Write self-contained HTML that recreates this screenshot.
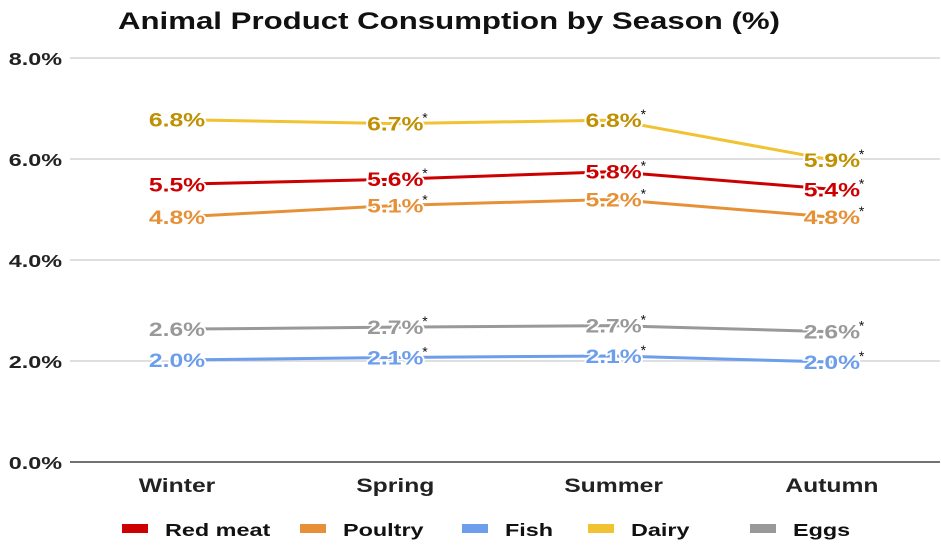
<!DOCTYPE html>
<html><head><meta charset="utf-8"><style>
body{margin:0;background:#fff;font-family:"Liberation Sans",Arial,sans-serif}
svg text{font-family:"Liberation Sans",Arial,sans-serif}
</style></head><body>
<svg id="c" width="941" height="545">
<text transform="translate(449,29) scale(1.3,1)" text-anchor="middle" font-size="24" font-weight="bold" fill="#111">Animal Product Consumption by Season (%)</text>
<g id="grid"></g><g id="lines"></g><g id="labels"></g><g id="legend"></g>
</svg>
<script>
const categories=["Winter","Spring","Summer","Autumn"];
const seriesNames=["Red meat","Poultry","Fish","Dairy","Eggs"];
const colors=["#cc0000","#e69138","#6d9eeb","#f1c232","#999999"];
const labelColors=["#cc0000","#e69138","#6d9eeb","#bf9000","#999999"];
const redMeat=[5.5,5.6,5.75,5.4];
const poultry=[4.85,5.08,5.2,4.85];
const fish=[2.02,2.07,2.1,1.98];
const dairy=[6.78,6.7,6.77,5.98];
const eggs=[2.63,2.67,2.7,2.58];
const redMeatLabels=["5.5%","5.6%","5.8%","5.4%"];
const poultryLabels=["4.8%","5.1%","5.2%","4.8%"];
const fishLabels=["2.0%","2.1%","2.1%","2.0%"];
const dairyLabels=["6.8%","6.7%","6.8%","5.9%"];
const eggsLabels=["2.6%","2.7%","2.7%","2.6%"];
const yTicks=[0,2,4,6,8];
const yTickLabels=["0.0%","2.0%","4.0%","6.0%","8.0%"];
const legendX=[122,300,462,588,750];
const series=[redMeat,poultry,fish,dairy,eggs];
const labels=[redMeatLabels,poultryLabels,fishLabels,dairyLabels,eggsLabels];
const NS="http://www.w3.org/2000/svg";
const y=v=>462-v*50.5;
const x=i=>177+i*218.3;
const SX=1.3;
function mk(p,t,a){const e=document.createElementNS(NS,t);for(const k in a)e.setAttribute(k,a[k]);document.getElementById(p).appendChild(e);return e;}
function tx(p,px,py,a){a.transform='translate('+px+','+py+') scale('+SX+',1)';return mk(p,'text',a);}
yTicks.forEach((v,i)=>{
 const l=mk('grid','line',{x1:70,x2:940,y1:y(v),y2:y(v),stroke:v===0?'#444':'#ccc','stroke-width':v===0?1.5:1.2});
 
 
 const t=tx('grid',62,y(v)+7,{'text-anchor':'end','font-size':18,'font-weight':'bold',fill:'#222'});
 t.textContent=yTickLabels[i];
 
 
});
categories.forEach((c,i)=>{
 const t=tx('grid',x(i),492,{'text-anchor':'middle','font-size':19,'font-weight':'bold',fill:'#222'});
 t.textContent=c;
 
 
});
series.forEach((s,k)=>{
 const p=mk('lines','polyline',{points:s.map((v,i)=>x(i)+','+y(v)).join(' '),fill:'none',stroke:colors[k],'stroke-width':3});
 
 
 s.forEach((v,i)=>{
  const t=tx('labels',x(i),y(v)+7,{'text-anchor':'middle','font-size':19,'font-weight':'bold',fill:labelColors[k],stroke:'#fff','stroke-width':3,'paint-order':'stroke'});
  t.textContent=labels[k][i];
  
  
  if(i>0){const a=mk('labels','text',{x:x(i)+27,y:y(v)-1,'font-size':14,fill:'#111'});a.textContent='*';
   
   }
 });
 const r=mk('legend','rect',{x:legendX[k],y:524,width:26,height:9,fill:colors[k]});
 
 
 const t=tx('legend',legendX[k]+43,536,{'font-size':18,'font-weight':'bold',fill:'#111'});
 t.textContent=seriesNames[k];
 
 
});
</script>
</body></html>
